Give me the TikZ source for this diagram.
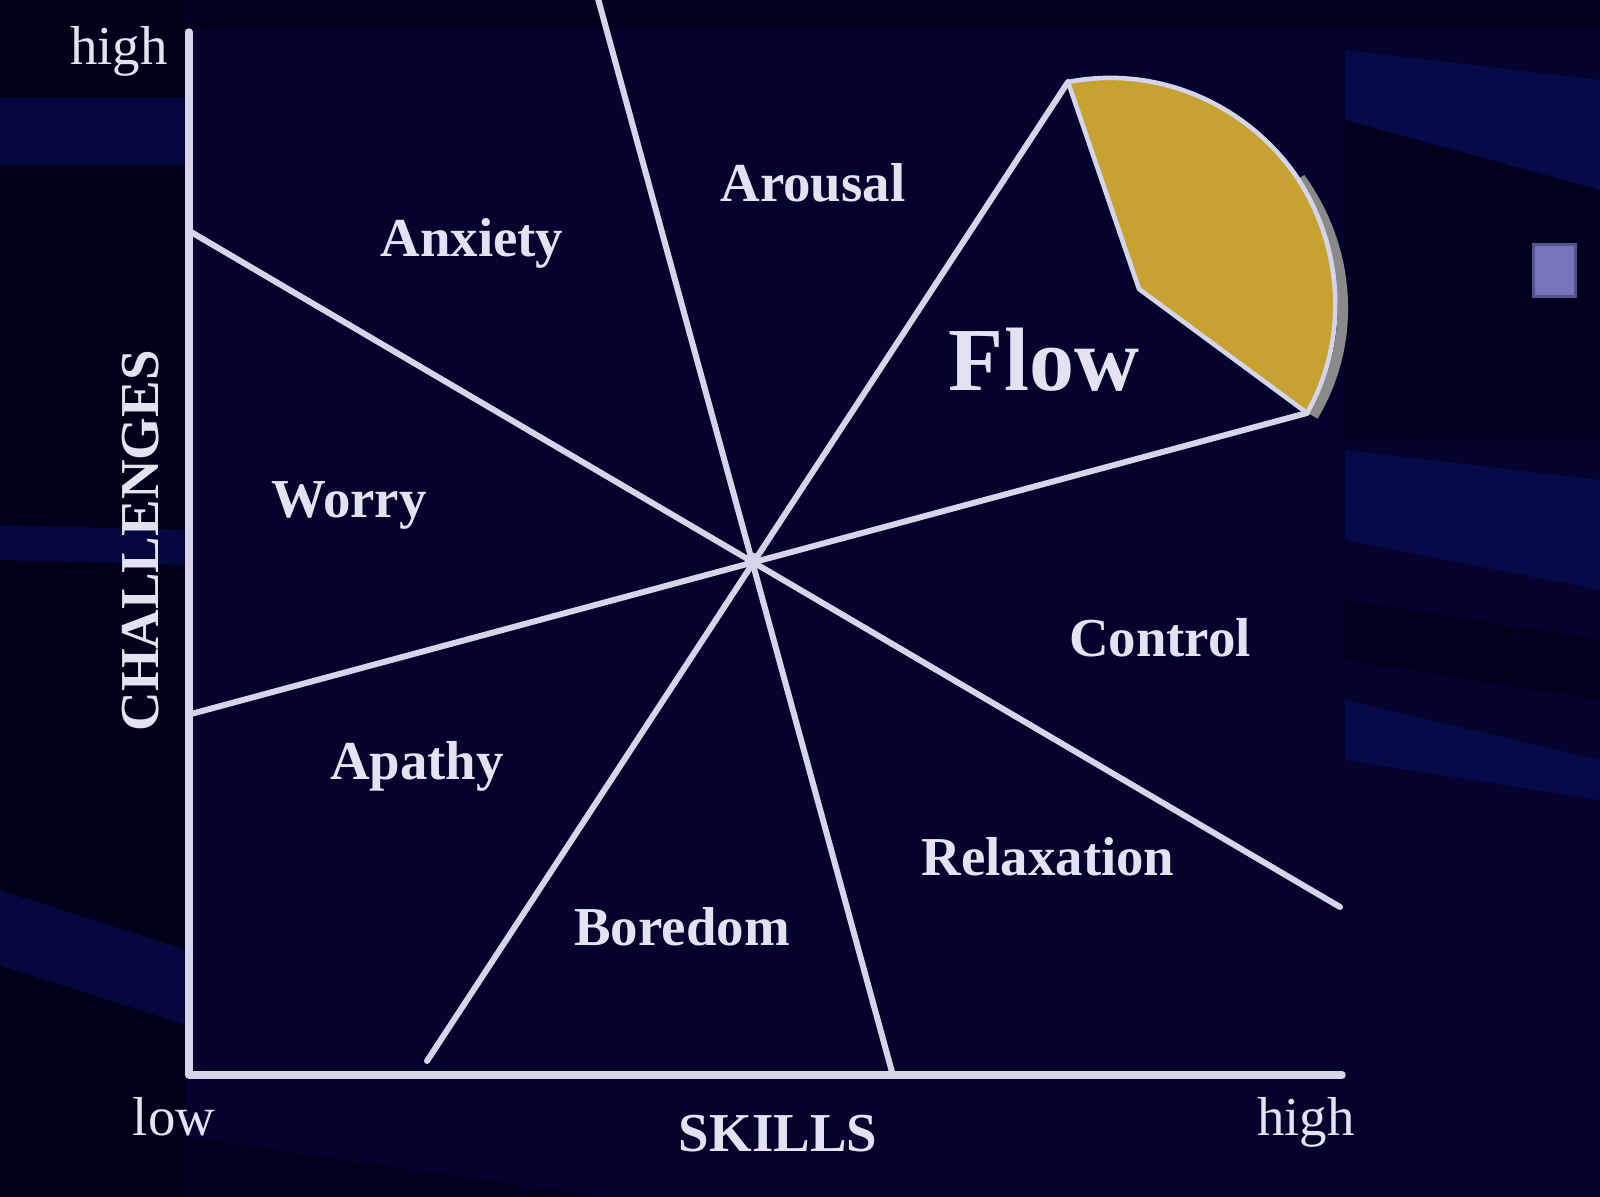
\documentclass[tikz,border=0pt]{standalone}
\usepackage{fontspec}
\setmainfont{Liberation Serif}
\usepackage{xcolor}
\definecolor{cBg}{HTML}{03032E}
\definecolor{cDark}{HTML}{00001A}
\definecolor{cStreak}{HTML}{0A1163}
\definecolor{cLine}{HTML}{D4D4EA}
\definecolor{cText}{HTML}{E2E2F2}
\definecolor{cFlow}{HTML}{C6A231}
\definecolor{cShade}{HTML}{8A8A8A}
\definecolor{cMark}{HTML}{7676BC}
\usepackage{tikz}
\tikzset{
  axis-line/.style={draw=cLine,line width=2.1pt,line join=round,line cap=round},
  zone-line/.style={draw=cLine,line width=1.7pt,line cap=round},
  zone-label/.style={text=cText,anchor=base,font=\fontsize{15.6}{18}\selectfont\bfseries},
  axis-label/.style={text=cText,anchor=base,font=\fontsize{15.6}{18}\selectfont},
  flow-label/.style={text=cText,anchor=base,font=\fontsize{25.6}{30}\selectfont\bfseries},
  streak/.style={fill=cStreak,opacity=0.5},
  % bande sombre du fond
  streak-dark/.style={fill=cDark,opacity=0.7},
}

\begin{document}
\begin{tikzpicture}[x=0.01cm,y=-0.01cm]
  \useasboundingbox (0,0) rectangle (1600,1197);
  % fond
  \fill[cBg] (0,0) rectangle (1600,1197);
  \fill[cDark] (0,0) rectangle (186,1197);
  \fill[streak-dark] (186,0) rectangle (1600,30);
  \fill[streak] (0,98) rectangle (186,165);
  \fill[streak] (0,525) -- (186,530) -- (186,565) -- (0,560) -- cycle;
  \fill[streak] (0,890) -- (186,950) -- (186,1025) -- (0,965) -- cycle;
  \fill[streak] (1345,50) -- (1600,80) -- (1600,190) -- (1345,120) -- cycle;
  \fill[streak-dark] (1345,120) -- (1600,190) -- (1600,440) -- (1345,440) -- cycle;
  \fill[streak] (1345,450) -- (1600,480) -- (1600,590) -- (1345,540) -- cycle;
  \fill[streak-dark] (1345,600) -- (1600,640) -- (1600,700) -- (1345,660) -- cycle;
  \fill[streak] (1345,700) -- (1600,760) -- (1600,800) -- (1345,760) -- cycle;
  \fill[streak-dark] (0,1110) -- (600,1197) -- (0,1197) -- cycle;

  % repere
  \coordinate (ctr) at (753,561);
  \coordinate (y-top) at (189,32);
  \coordinate (origin) at (189,1075);
  \coordinate (x-end) at (1342,1075);

  % secteur Flow
  \coordinate (fl-tip) at (1068,82);
  \coordinate (fl-in) at (1139,289);
  \coordinate (fl-end) at (1307,413);
  \coordinate (fl-mid) at (1294,173);
  \draw[cShade,line width=3pt] (1300,178) .. controls (1352,250) and (1357,343) .. (1313,416);
  \filldraw[fill=cFlow,draw=cLine,line width=1.3pt,line join=round]
    (fl-tip) -- (fl-in) -- (fl-end)
    .. controls (1349,340) and (1344,245) .. (fl-mid)
    .. controls (1243,102) and (1155,65) .. (fl-tip) -- cycle;

  % axes
  \draw[axis-line] (y-top) -- (origin) -- (x-end);

  % droites par le centre
  \coordinate (worry-a) at (191,232);
  \coordinate (relax-b) at (1340,907);
  \coordinate (apathy-a) at (191,714);
  \coordinate (arousal-a) at (597,-5);
  \coordinate (bored-b) at (892,1072);
  \coordinate (bored-a) at (427,1061);
  \draw[zone-line] (worry-a) -- (relax-b);
  \draw[zone-line] (apathy-a) -- (fl-end);
  \draw[zone-line] (arousal-a) -- (bored-b);
  \draw[zone-line] (bored-a) -- (fl-tip);
  \fill[cLine] (ctr) circle (0.08cm);

  % textes
  \node[axis-label] (lbl-high-y) at (119,65) {high};
  \node[axis-label] (lbl-low) at (174,1135) {low};
  \node[axis-label] (lbl-high-x) at (1306,1135) {high};
  \node[zone-label] (lbl-skills) at (778,1151) {SKILLS};
  \node[zone-label,rotate=90] (lbl-chal) at (158,541) {CHALLENGES};
  \node[zone-label] (lbl-anxiety) at (472,257) {Anxiety};
  \node[zone-label] (lbl-arousal) at (813,202) {Arousal};
  \node[flow-label] (lbl-flow) at (1044,390) {Flow};
  \node[zone-label] (lbl-worry) at (349,517) {Worry};
  \node[zone-label] (lbl-control) at (1160,656) {Control};
  \node[zone-label] (lbl-apathy) at (417,779) {Apathy};
  \node[zone-label] (lbl-relax) at (1048,875) {Relaxation};
  \node[zone-label] (lbl-boredom) at (682,945) {Boredom};

  % carre a droite
  \fill[cMark!70!cBg] (1532,243) rectangle (1577,298);
  \fill[cMark] (1535,246) rectangle (1574,295);
\end{tikzpicture}
\end{document}
